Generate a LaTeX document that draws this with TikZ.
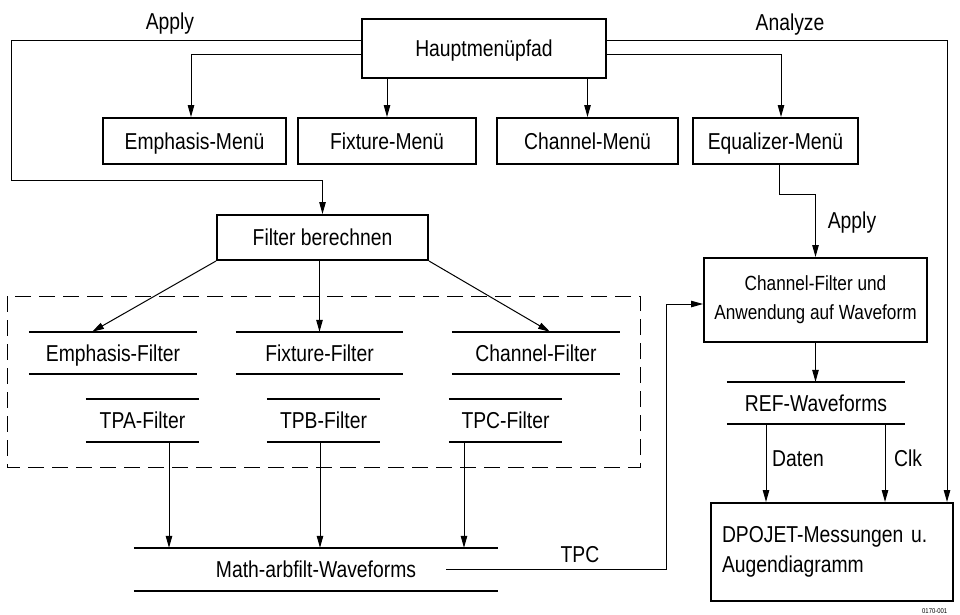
\documentclass[tikz,border=0pt]{standalone}
\usepackage{fontspec}
\setmainfont[FakeStretch=0.84]{Liberation Sans}
\usetikzlibrary{arrows.meta}

\tikzset{
  txt/.style={inner sep=0pt,font=\fontsize{23}{26}\selectfont,text height=16.5pt,text depth=0pt},
  box/.style={txt,draw,line width=2pt},
  mbox/.style={draw,line width=2pt,inner sep=0pt},
  store/.style={txt},
  lbl/.style={txt},
  arr/.style={line width=1pt,-{Triangle[length=12pt,width=6.5pt]}},
}

\begin{document}
\begin{tikzpicture}[x=1pt,y=-1pt]
  \useasboundingbox (0,0) rectangle (960,614);

  % 主菜单
  \node[box,minimum width=244pt,minimum height=59pt] (haupt) at (484,48.5) {Hauptmenüpfad};
  \node[box,minimum width=183pt,minimum height=46pt] (emm) at (194.5,141) {Emphasis-Menü};
  \node[box,minimum width=178pt,minimum height=46pt] (fxm) at (387,141) {Fixture-Menü};
  \node[box,minimum width=181pt,minimum height=46pt] (chm) at (587.5,141) {Channel-Menü};
  \node[box,minimum width=165pt,minimum height=46pt] (eqm) at (775.5,141) {Equalizer-Menü};

  % 左侧: 滤波器
  \node[box,minimum width=211pt,minimum height=45pt] (filt) at (322.5,237.5) {Filter berechnen};
  \node[store,minimum width=168pt,minimum height=42pt] (emf) at (113,353) {Emphasis-Filter};
  \node[store,minimum width=167pt,minimum height=42pt] (fxf) at (319.5,353) {Fixture-Filter};
  \node[store,minimum width=168pt,minimum height=42pt] (chf) at (536,353) {Channel-Filter};
  \node[store,minimum width=113pt,minimum height=43pt] (tpa) at (142.5,420.5) {TPA-Filter};
  \node[store,minimum width=113pt,minimum height=43pt] (tpb) at (323.5,420.5) {TPB-Filter};
  \node[store,minimum width=113pt,minimum height=43pt] (tpc) at (505.5,420.5) {TPC-Filter};
  \node[store,minimum width=364pt,minimum height=43pt] (math) at (316,569.5) {Math-arbfilt-Waveforms};

  % 右侧
  \node[mbox,minimum width=223pt,minimum height=84pt,align=center,
        font=\fontsize{20.5}{29}\selectfont] (chw) at (815.5,300)
        {Channel-Filter und\\Anwendung auf Waveform};
  \node[store,minimum width=178pt,minimum height=42pt] (ref) at (816,403) {REF-Waveforms};
  \node[mbox,minimum width=242pt,minimum height=98pt,text width=220pt,align=left,
        font=\fontsize{23}{30}\selectfont] (dpo) at (832,552)
        {DPOJET-Messungen u.\\Augendiagramm};

  % 存储线
  \foreach \n in {emf,fxf,chf,tpa,tpb,tpc,math,ref}
    \draw[line width=2pt] (\n.north west) -- (\n.north east)
                          (\n.south west) -- (\n.south east);

  % 虚线框
  \draw[line width=1pt,dash pattern=on 16pt off 8pt] (7,296) rectangle (640,467);

  % 标签
  \node[lbl] (apl1) at (170,21) {Apply};
  \node[lbl] (anl) at (790,22) {Analyze};
  \node[lbl] (apl2) at (852,220) {Apply};
  \node[lbl] (tpcl) at (580,554) {TPC};
  \node[lbl] (dat) at (798,458) {Daten};
  \node[lbl] (clk) at (908,458) {Clk};
  \node[inner sep=0pt,anchor=south west,font=\fontsize{7}{8}\selectfont] (fig) at (922,614) {0170-001};

  % 连线
  \draw[arr] ([yshift=8.5pt]haupt.west) -| (11,180) -| (filt.north);
  \draw[arr] ([yshift=-5.5pt]haupt.west) -| ([xshift=-3.5pt]emm.north);
  \draw[arr] (haupt.south -| fxm.north) -- (fxm.north);
  \draw[arr] (haupt.south -| chm.north) -- (chm.north);
  \draw[arr] ([yshift=-5.5pt]haupt.east) -| ([xshift=5.5pt]eqm.north);
  \draw[arr] ([yshift=8.5pt]haupt.east) -| ([xshift=-7pt]dpo.north east);

  \draw[arr] (filt.south west) -- ([xshift=-21pt]emf.north);
  \draw[arr] (filt.south -| fxf.north) -- (fxf.north);
  \draw[arr] (filt.south east) -- ([xshift=14pt]chf.north);

  \foreach \n/\x in {tpa/169,tpb/320,tpc/464}
    \draw[arr] (\n.south -| \x,0) -- (math.north -| \x,0);

  \draw[arr] ([xshift=-52pt]math.east) -| ([xshift=-37pt,yshift=-4pt]chw.west) -- ([yshift=-4pt]chw.west);
  \draw[arr] ([xshift=3.5pt]eqm.south) -- ++(0,29) -| (chw.north);
  \draw[arr] (chw.south) -- (chw.south |- ref.north);

  \foreach \x in {766,885}
    \draw[arr] (ref.south -| \x,0) -- (dpo.north -| \x,0);
\end{tikzpicture}
\end{document}
